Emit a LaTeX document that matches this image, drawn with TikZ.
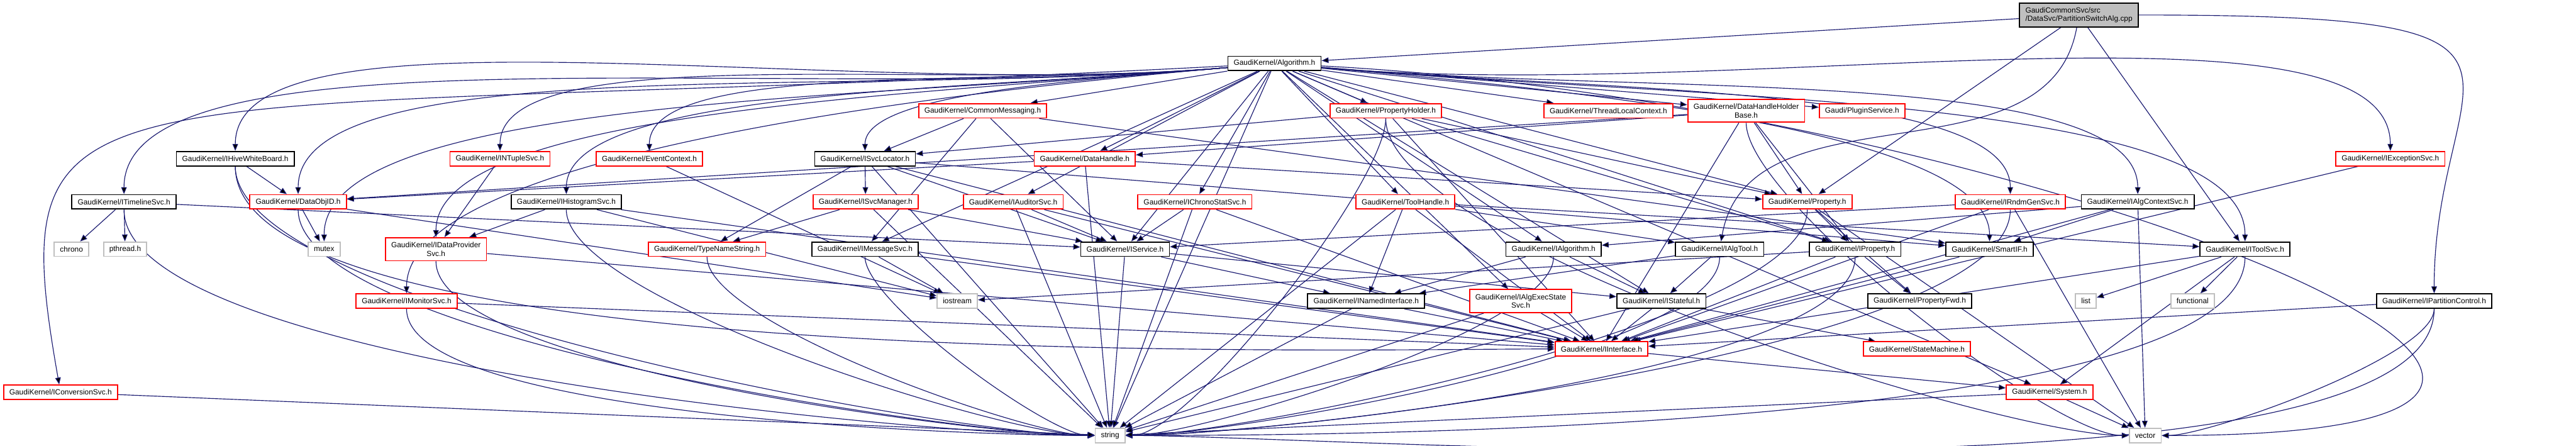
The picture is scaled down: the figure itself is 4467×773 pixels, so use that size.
\documentclass[tikz,border=0pt]{standalone}
\usepackage{fontspec}
\setmainfont{Liberation Sans}
\usetikzlibrary{arrows.meta}
\pgfdeclarelayer{edges}
\pgfsetlayers{edges,main}
\definecolor{edgeblue}{HTML}{191970}
\definecolor{boxgrey}{HTML}{BFBFBF}
\tikzset{
  hdr/.style={draw=black, fill=white, line width=0.28pt, align=center,
    minimum height=0.125cm, inner xsep=0.05cm, inner ysep=0.01cm,
    font=\fontsize{1.85}{2.13}\selectfont},
  trunc/.style={hdr, draw=red},
  sys/.style={hdr, draw=boxgrey},
  dep/.style={draw=edgeblue, line width=0.18pt,
    -{Triangle[length=0.06cm,width=0.048cm]}},
  lft/.style={out=185, in=90, out looseness=1, in looseness=0.4},
  rgt/.style={out=-5, in=90, out looseness=1, in looseness=0.4},
  inl/.style={out=-90, in=180, looseness=0.4},
  inr/.style={out=-90, in=0, looseness=0.4}}

\begin{document}
\begin{tikzpicture}[x=0.005cm, y=-0.005cm]
  \useasboundingbox (0,0) rectangle (4467,773);
  % rows from top to bottom
  \node[hdr, fill=boxgrey, align=left, minimum height=0.205cm] (root) at (3605,26) {GaudiCommonSvc/src\\/DataSvc/PartitionSwitchAlg.cpp};
  \node[hdr] (alg) at (2210,110) {GaudiKernel/Algorithm.h};

  \node[trunc] (cmsg) at (1704,192) {GaudiKernel/CommonMessaging.h};
  \node[trunc] (phold) at (2403,192) {GaudiKernel/PropertyHolder.h};
  \node[trunc] (tlc) at (2789,192) {GaudiKernel/ThreadLocalContext.h};
  \node[trunc, minimum height=0.2cm] (dhhb) at (3028,192) {GaudiKernel/DataHandleHolder\\Base.h};
  \node[trunc] (plug) at (3229,192) {Gaudi/PluginService.h};

  \node[hdr] (hive) at (408,275) {GaudiKernel/IHiveWhiteBoard.h};
  \node[trunc] (ntup) at (867,275) {GaudiKernel/INTupleSvc.h};
  \node[trunc] (evtc) at (1126,275) {GaudiKernel/EventContext.h};
  \node[hdr] (svcloc) at (1500,275) {GaudiKernel/ISvcLocator.h};
  \node[trunc] (dhnd) at (1881,275) {GaudiKernel/DataHandle.h};
  \node[trunc] (iexc) at (4145,275) {GaudiKernel/IExceptionSvc.h};

  \node[hdr] (tline) at (215,350) {GaudiKernel/ITimelineSvc.h};
  \node[trunc] (dobj) at (517,350) {GaudiKernel/DataObjID.h};
  \node[hdr] (histo) at (982,350) {GaudiKernel/IHistogramSvc.h};
  \node[trunc] (svcmgr) at (1501,350) {GaudiKernel/ISvcManager.h};
  \node[trunc] (audit) at (1757,350) {GaudiKernel/IAuditorSvc.h};
  \node[trunc] (chstat) at (2072,350) {GaudiKernel/IChronoStatSvc.h};
  \node[trunc] (thnd) at (2437,350) {GaudiKernel/ToolHandle.h};
  \node[trunc] (prop) at (3134,350) {GaudiKernel/Property.h};
  \node[trunc] (rndm) at (3486,350) {GaudiKernel/IRndmGenSvc.h};
  \node[hdr] (algctx) at (3707,350) {GaudiKernel/IAlgContextSvc.h};

  \node[sys] (chrono) at (124,432) {chrono};
  \node[sys] (pthr) at (217,432) {pthread.h};
  \node[sys] (mutex) at (562,432) {mutex};
  \node[trunc, minimum height=0.2cm] (dprov) at (756,432) {GaudiKernel/IDataProvider\\Svc.h};
  \node[trunc] (tns) at (1226,432) {GaudiKernel/TypeNameString.h};
  \node[hdr] (msgsvc) at (1500,432) {GaudiKernel/IMessageSvc.h};
  \node[hdr] (isvc) at (1951,432) {GaudiKernel/IService.h};
  \node[hdr] (ialg) at (2694,432) {GaudiKernel/IAlgorithm.h};
  \node[hdr] (algtool) at (2982,432) {GaudiKernel/IAlgTool.h};
  \node[hdr] (iprop) at (3217,432) {GaudiKernel/IProperty.h};
  \node[hdr] (smartif) at (3450,432) {GaudiKernel/SmartIF.h};
  \node[hdr] (toolsvc) at (3893,432) {GaudiKernel/IToolSvc.h};

  \node[trunc] (mon) at (705,522) {GaudiKernel/IMonitorSvc.h};
  \node[sys] (iostr) at (1660,522) {iostream};
  \node[hdr] (named) at (2369,522) {GaudiKernel/INamedInterface.h};
  \node[trunc, minimum height=0.2cm] (execst) at (2637,522) {GaudiKernel/IAlgExecState\\Svc.h};
  \node[hdr] (stateful) at (2881,522) {GaudiKernel/IStateful.h};
  \node[hdr] (propfwd) at (3329,522) {GaudiKernel/PropertyFwd.h};
  \node[sys] (list) at (3617,522) {list};
  \node[sys] (func) at (3802,522) {functional};
  \node[hdr] (partc) at (4221,522) {GaudiKernel/IPartitionControl.h};

  \node[trunc] (iif) at (2777,605) {GaudiKernel/IInterface.h};
  \node[trunc] (smach) at (3324,605) {GaudiKernel/StateMachine.h};
  \node[trunc] (conv) at (105,680) {GaudiKernel/IConversionSvc.h};
  \node[trunc] (system) at (3554,680) {GaudiKernel/System.h};
  \node[sys] (string) at (1925,755) {string};
  \node[sys] (vector) at (3720,755) {vector};

  % includes, kept under the boxes
  \begin{pgfonlayer}{edges}
  \path[dep] (root) edge (alg) edge (prop) edge[out=-100, in=80] (algtool)
    edge (toolsvc) edge[out=0, in=90, out distance=4cm, in distance=2cm] (partc);
  \path[dep] (alg)
    edge[out=183, in=100, out distance=10cm, in distance=3cm] (conv)
    edge[lft] (tline) edge[lft] (hive) edge[lft] (dobj)
    edge[lft] (mutex) edge[lft] (ntup) edge[lft] (dprov) edge[lft] (mon)
    edge[lft] (histo) edge[lft] (evtc) edge[lft] (svcloc)
    edge (cmsg) edge (phold) edge (tlc) edge (dhhb) edge (plug) edge (dhnd)
    edge (audit) edge (chstat) edge (thnd) edge (ialg) edge (isvc)
    edge (msgsvc) edge (stateful) edge (execst) edge (iprop) edge (prop)
    edge (string) edge (system)
    edge[rgt] (iexc) edge[rgt] (rndm) edge[rgt] (algctx) edge[rgt] (smartif)
    edge[rgt] (toolsvc)
    edge[out=-3, in=0, out distance=6cm, in distance=6cm] (vector);
  \path[dep] (cmsg) edge (svcloc) edge (msgsvc) edge (isvc) edge (smartif);
  \path[dep] (phold) edge (svcloc) edge (prop) edge (iprop) edge (iif)
    edge[inr] (string) edge[inl] (vector);
  \path[dep] (dhhb) edge (dhnd) edge (dobj) edge (prop) edge (iprop)
    edge (iif) edge[inl] (vector);
  \path[dep] (dhnd) edge (dobj) edge (prop) edge (string);
  \path[dep] (hive) edge (dobj) edge[inl] (iif) edge[inl] (string);
  \path[dep] (ntup) edge (dprov);
  \path[dep] (evtc) edge (iostr);
  \path[dep] (svcloc) edge (svcmgr) edge (tns) edge (isvc) edge (iif)
    edge (smartif) edge (string);
  \path[dep] (iexc) edge (iif);
  \path[dep] (tline) edge (chrono) edge (pthr) edge (isvc) edge[inl] (string);
  \path[dep] (dobj) edge (mutex) edge (iostr) edge[inl] (string);
  \path[dep] (histo) edge (dprov) edge (iostr) edge (iif) edge[inl] (string);
  \path[dep] (svcmgr) edge (tns) edge (isvc) edge (string);
  \path[dep] (audit) edge (isvc) edge (iif) edge (string);
  \path[dep] (chstat) edge (isvc) edge (iif) edge (string);
  \path[dep] (thnd) edge (algtool) edge (toolsvc) edge (named) edge (iif)
    edge (string);
  \path[dep] (prop) edge (iprop) edge (propfwd) edge[inr] (string) edge (vector);
  \path[dep] (rndm) edge (isvc) edge (iif) edge (vector) edge[inr] (string);
  \path[dep] (algctx) edge (ialg) edge (iif) edge (smartif) edge (vector);
  \path[dep] (dprov) edge (iif) edge[inl] (string);
  \path[dep] (tns) edge[inl] (string);
  \path[dep] (msgsvc) edge (iostr) edge (iif) edge[inl] (string);
  \path[dep] (isvc) edge (named) edge (stateful) edge (string);
  \path[dep] (ialg) edge (named) edge (stateful) edge[inr] (string);
  \path[dep] (algtool) edge (named) edge (stateful) edge[inr] (string);
  \path[dep] (iprop) edge (iostr) edge (iif) edge (propfwd) edge[inr] (string);
  \path[dep] (smartif) edge (iif);
  \path[dep] (toolsvc) edge (list) edge (func) edge (iif) edge (system)
    edge[inr] (string);
  \path[dep] (mon) edge (iif) edge[inl] (string);
  \path[dep] (named) edge (iif) edge (string);
  \path[dep] (execst) edge (iif) edge (string);
  \path[dep] (stateful) edge (iif) edge (smach) edge (string);
  \path[dep] (partc) edge (iif) edge[inr] (string) edge[inr] (vector);
  \path[dep] (iif) edge (system);
  \path[dep] (conv) edge (string);
  \path[dep] (system) edge (vector) edge (string);
  \end{pgfonlayer}
\end{tikzpicture}
\end{document}
